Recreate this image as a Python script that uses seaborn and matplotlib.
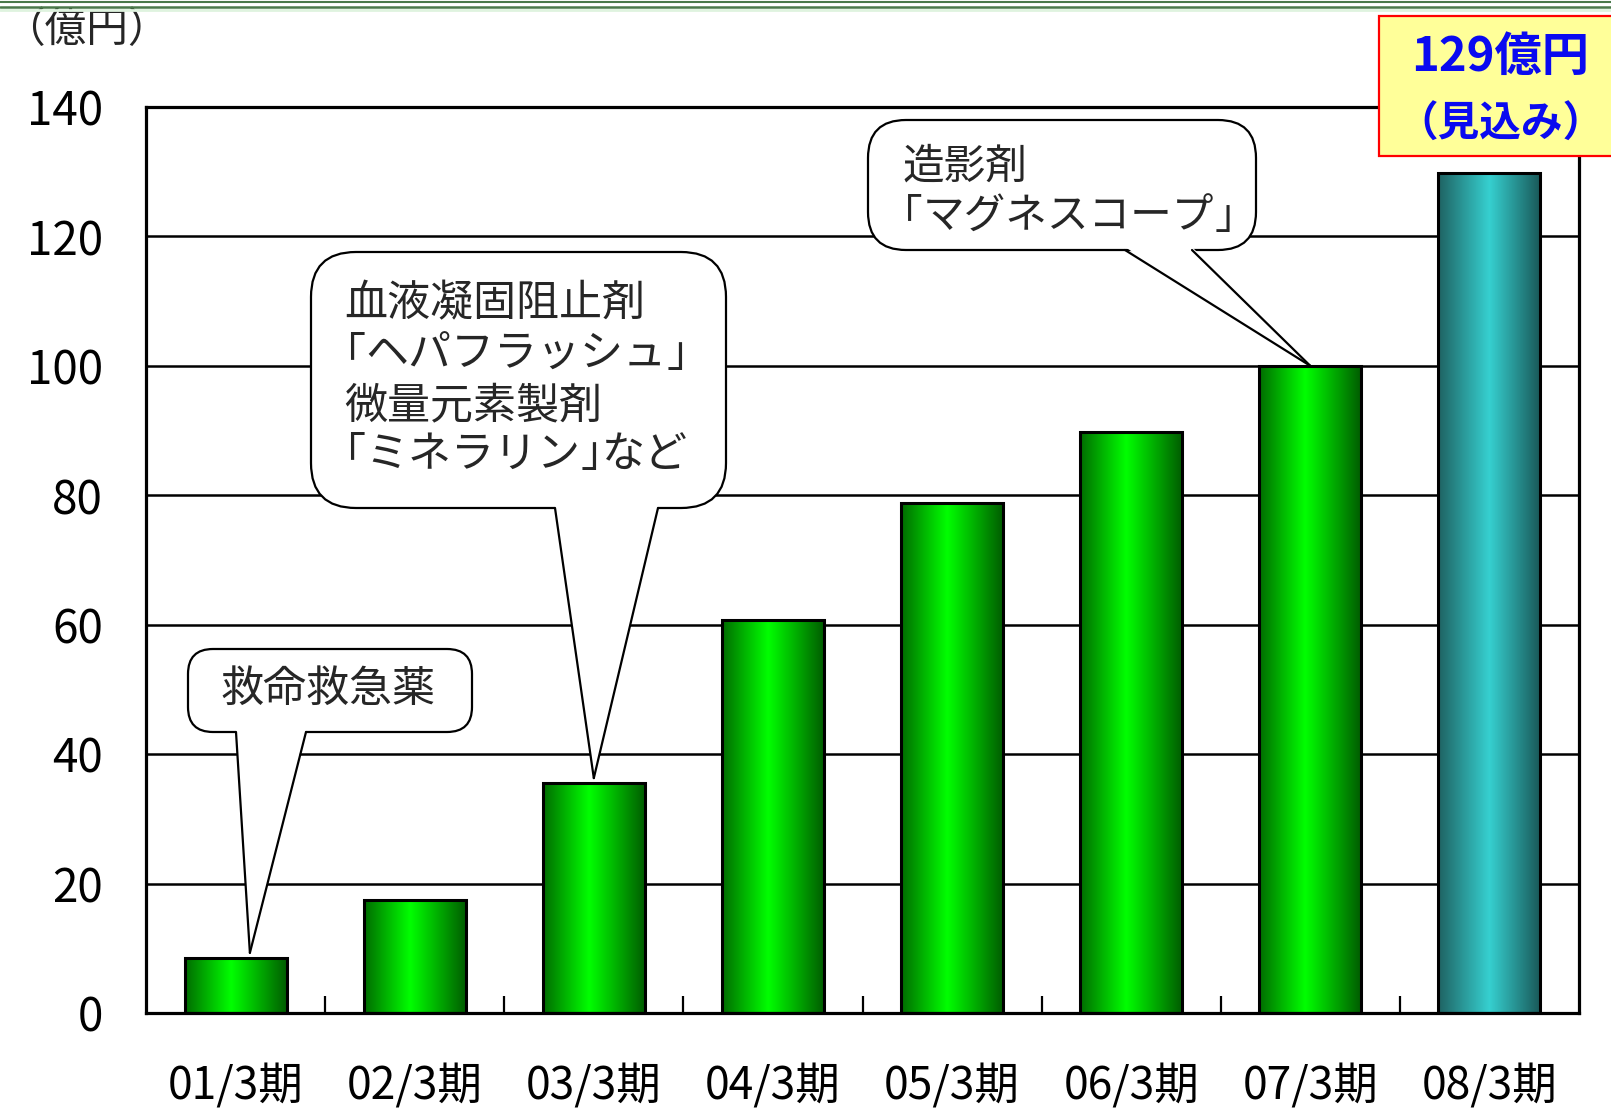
import re
import numpy as np
import pandas as pd
import matplotlib
matplotlib.use('Agg')
import matplotlib.pyplot as plt
import seaborn as sns
from matplotlib.patches import FancyBboxPatch, Polygon, Rectangle
from matplotlib.lines import Line2D
from matplotlib.colors import to_rgb

# ---------------- data ----------------
periods = ['01/3期', '02/3期', '03/3期', '04/3期', '05/3期', '06/3期', '07/3期', '08/3期']
sales = [8.5, 17.5, 35.5, 60.7, 78.8, 89.8, 100.0, 129.8]
bar_kind = ['実績', '実績', '実績', '実績', '実績', '実績', '実績', '見込み']
y_ticks = [0, 20, 40, 60, 80, 100, 120, 140]
unit_label = '（億円）'
forecast_lines = ['129億円', '（見込み）']
callout1_lines = ['救命救急薬']
callout2_lines = ['血液凝固阻止剤', '「ヘパフラッシュ」', '微量元素製剤', '「ミネラリン」など']
callout3_lines = ['造影剤', '「マグネスコープ」']
callout_targets = [0, 2, 6]

# ---------------- style ----------------
sns.set_theme(style='white')
plt.rcParams['font.family'] = ['Noto Sans CJK JP', 'DejaVu Sans']

W, H = 1611, 1108
fig = plt.figure(figsize=(W / 100, H / 100), dpi=100)
fig.patch.set_facecolor('white')
ax = fig.add_axes([146 / W, 1 - 1013 / H, (1579 - 146) / W, (1013 - 107) / H])

df = pd.DataFrame({'period': periods, 'sales': sales, 'kind': bar_kind})
sns.barplot(data=df, x='period', y='sales', hue='kind',
            palette={'実績': '#00cc00', '見込み': '#33cccc'},
            width=0.57, dodge=False, legend=False,
            edgecolor='black', linewidth=2.2, ax=ax)


def gradient(stops, colors, n=256):
    t = np.linspace(0, 1, n)
    rgb = np.array([to_rgb(c) for c in colors])
    arr = np.stack([np.interp(t, stops, rgb[:, k]) for k in range(3)], axis=-1)
    return arr[np.newaxis, :, :]


grad_map = {
    '実績': gradient([0, 0.45, 1], ['#006c00', '#00ff00', '#005a00']),
    '見込み': gradient([0, 0.5, 1], ['#1f6262', '#36d0d0', '#195757']),
}

for patch in list(ax.patches):
    x0, w, h = patch.get_x(), patch.get_width(), patch.get_height()
    if w <= 0 or h <= 0:
        continue
    idx = int(round(x0 + w / 2))
    im = ax.imshow(grad_map[bar_kind[idx]], extent=[x0, x0 + w, 0, h],
                   aspect='auto', zorder=2, interpolation='bilinear')
    im.set_clip_path(patch)
    patch.set_facecolor('none')
    patch.set_zorder(3)

ax.set_xlim(-0.5, len(periods) - 0.5)
ax.set_ylim(0, 140)
ax.set_yticks(y_ticks)
ax.set_xlabel('')
ax.set_ylabel('')
ax.yaxis.grid(True, color='black', linewidth=1.8)
ax.xaxis.grid(False)
ax.set_axisbelow(True)
for s in ax.spines.values():
    s.set_visible(True)
    s.set_color('black')
    s.set_linewidth(2.3)
ax.set_xticks(np.arange(0.5, len(periods) - 1, 1), minor=True)
ax.tick_params(axis='y', length=0, pad=31, labelsize=33, labelcolor='black')
ax.tick_params(axis='x', which='major', length=0, pad=36, labelsize=32, labelcolor='black')
ax.tick_params(axis='x', which='minor', direction='in', length=12, width=1.6,
               bottom=True, color='black')

# ---------------- overlay (annotations in pixel coords) ----------------
ov = fig.add_axes([0, 0, 1, 1])
ov.set_xlim(0, W)
ov.set_ylim(0, H)
ov.axis('off')
renderer = fig.canvas.get_renderer()


def tip_of(i, dx=0.0, dy=0.0):
    return ax.transData.transform((i + dx, sales[i] + dy))


def callout(box, radius, base, tip, lw=1.6):
    x0, y0, x1, y1 = box
    bb = FancyBboxPatch((x0, H - y1), x1 - x0, y1 - y0,
                        boxstyle=f'round,pad=0,rounding_size={radius}',
                        fc='white', ec='black', lw=lw, zorder=5)
    ov.add_patch(bb)
    by = H - y1
    bx0, bx1 = base
    tri = Polygon([(bx0, by + 3), (bx1, by + 3), tuple(tip)], closed=True,
                  fc='white', ec='none', zorder=6)
    ov.add_patch(tri)
    ov.plot([bx0, tip[0]], [by, tip[1]], color='black', lw=lw, zorder=7,
            solid_capstyle='round')
    ov.plot([bx1, tip[0]], [by, tip[1]], color='black', lw=lw, zorder=7,
            solid_capstyle='round')


def draw_line(x, y, line, fs):
    """Draw a text line with tightened (half-width) corner brackets."""
    em = fs * 100 / 72
    for tok in [t for t in re.split(r'([「」])', line) if t]:
        if tok == '「':
            ov.text(x - 0.5 * em, H - y, tok, fontsize=fs, ha='left', va='center', zorder=8)
            x += 0.5 * em
        elif tok == '」':
            ov.text(x, H - y, tok, fontsize=fs, ha='left', va='center', zorder=8)
            x += 0.5 * em
        else:
            t = ov.text(x, H - y, tok, fontsize=fs, ha='left', va='center', zorder=8)
            x += t.get_window_extent(renderer).width


# callout 1
t1 = tip_of(callout_targets[0], 0.08, 0.8)
callout((188, 649, 472, 732), 25, (236, 306), t1)
ov.text(328, H - 690, callout1_lines[0], fontsize=31, ha='center', va='center', zorder=8)

# callout 2
t2 = tip_of(callout_targets[1], 0.0, 0.8)
callout((311, 252, 726, 508), 45, (555, 658), t2)
for line, yy in zip(callout2_lines, [304, 355, 406, 455]):
    draw_line(344, yy, line, 31)

# callout 3
t3 = tip_of(callout_targets[2], 0.0, 0.0)
callout((868, 120, 1256, 250), 38, (1125, 1192), t3)
for line, yy in zip(callout3_lines, [167, 217]):
    draw_line(902, yy, line, 30)

# forecast box
ov.add_patch(Rectangle((1379, H - 156), 260, 140, fc='#FFFF99', ec='red', lw=1.6,
                       zorder=5, clip_on=False))
ov.text(1500, H - 57, forecast_lines[0], fontsize=34, fontweight='bold',
        color='#0a0af0', ha='center', va='center', zorder=8)
ov.text(1500, H - 125, forecast_lines[1], fontsize=30, fontweight='bold',
        color='#0a0af0', ha='center', va='center', zorder=8)

# unit label
ov.text(3, H - 31, unit_label, fontsize=30, ha='left', va='center', zorder=8)

# top decorative lines
fig.add_artist(Line2D([0, 1], [1 - 1.5 / H] * 2, transform=fig.transFigure,
                      color='#4a784a', lw=1.5))
fig.add_artist(Line2D([0, 1], [1 - 7.0 / H] * 2, transform=fig.transFigure,
                      color='#4a784a', lw=1.8))
fig.add_artist(Line2D([0, 1], [1 - 10.0 / H] * 2, transform=fig.transFigure,
                      color='#dff3df', lw=2.0))

fig.savefig('out.png', dpi=100)
